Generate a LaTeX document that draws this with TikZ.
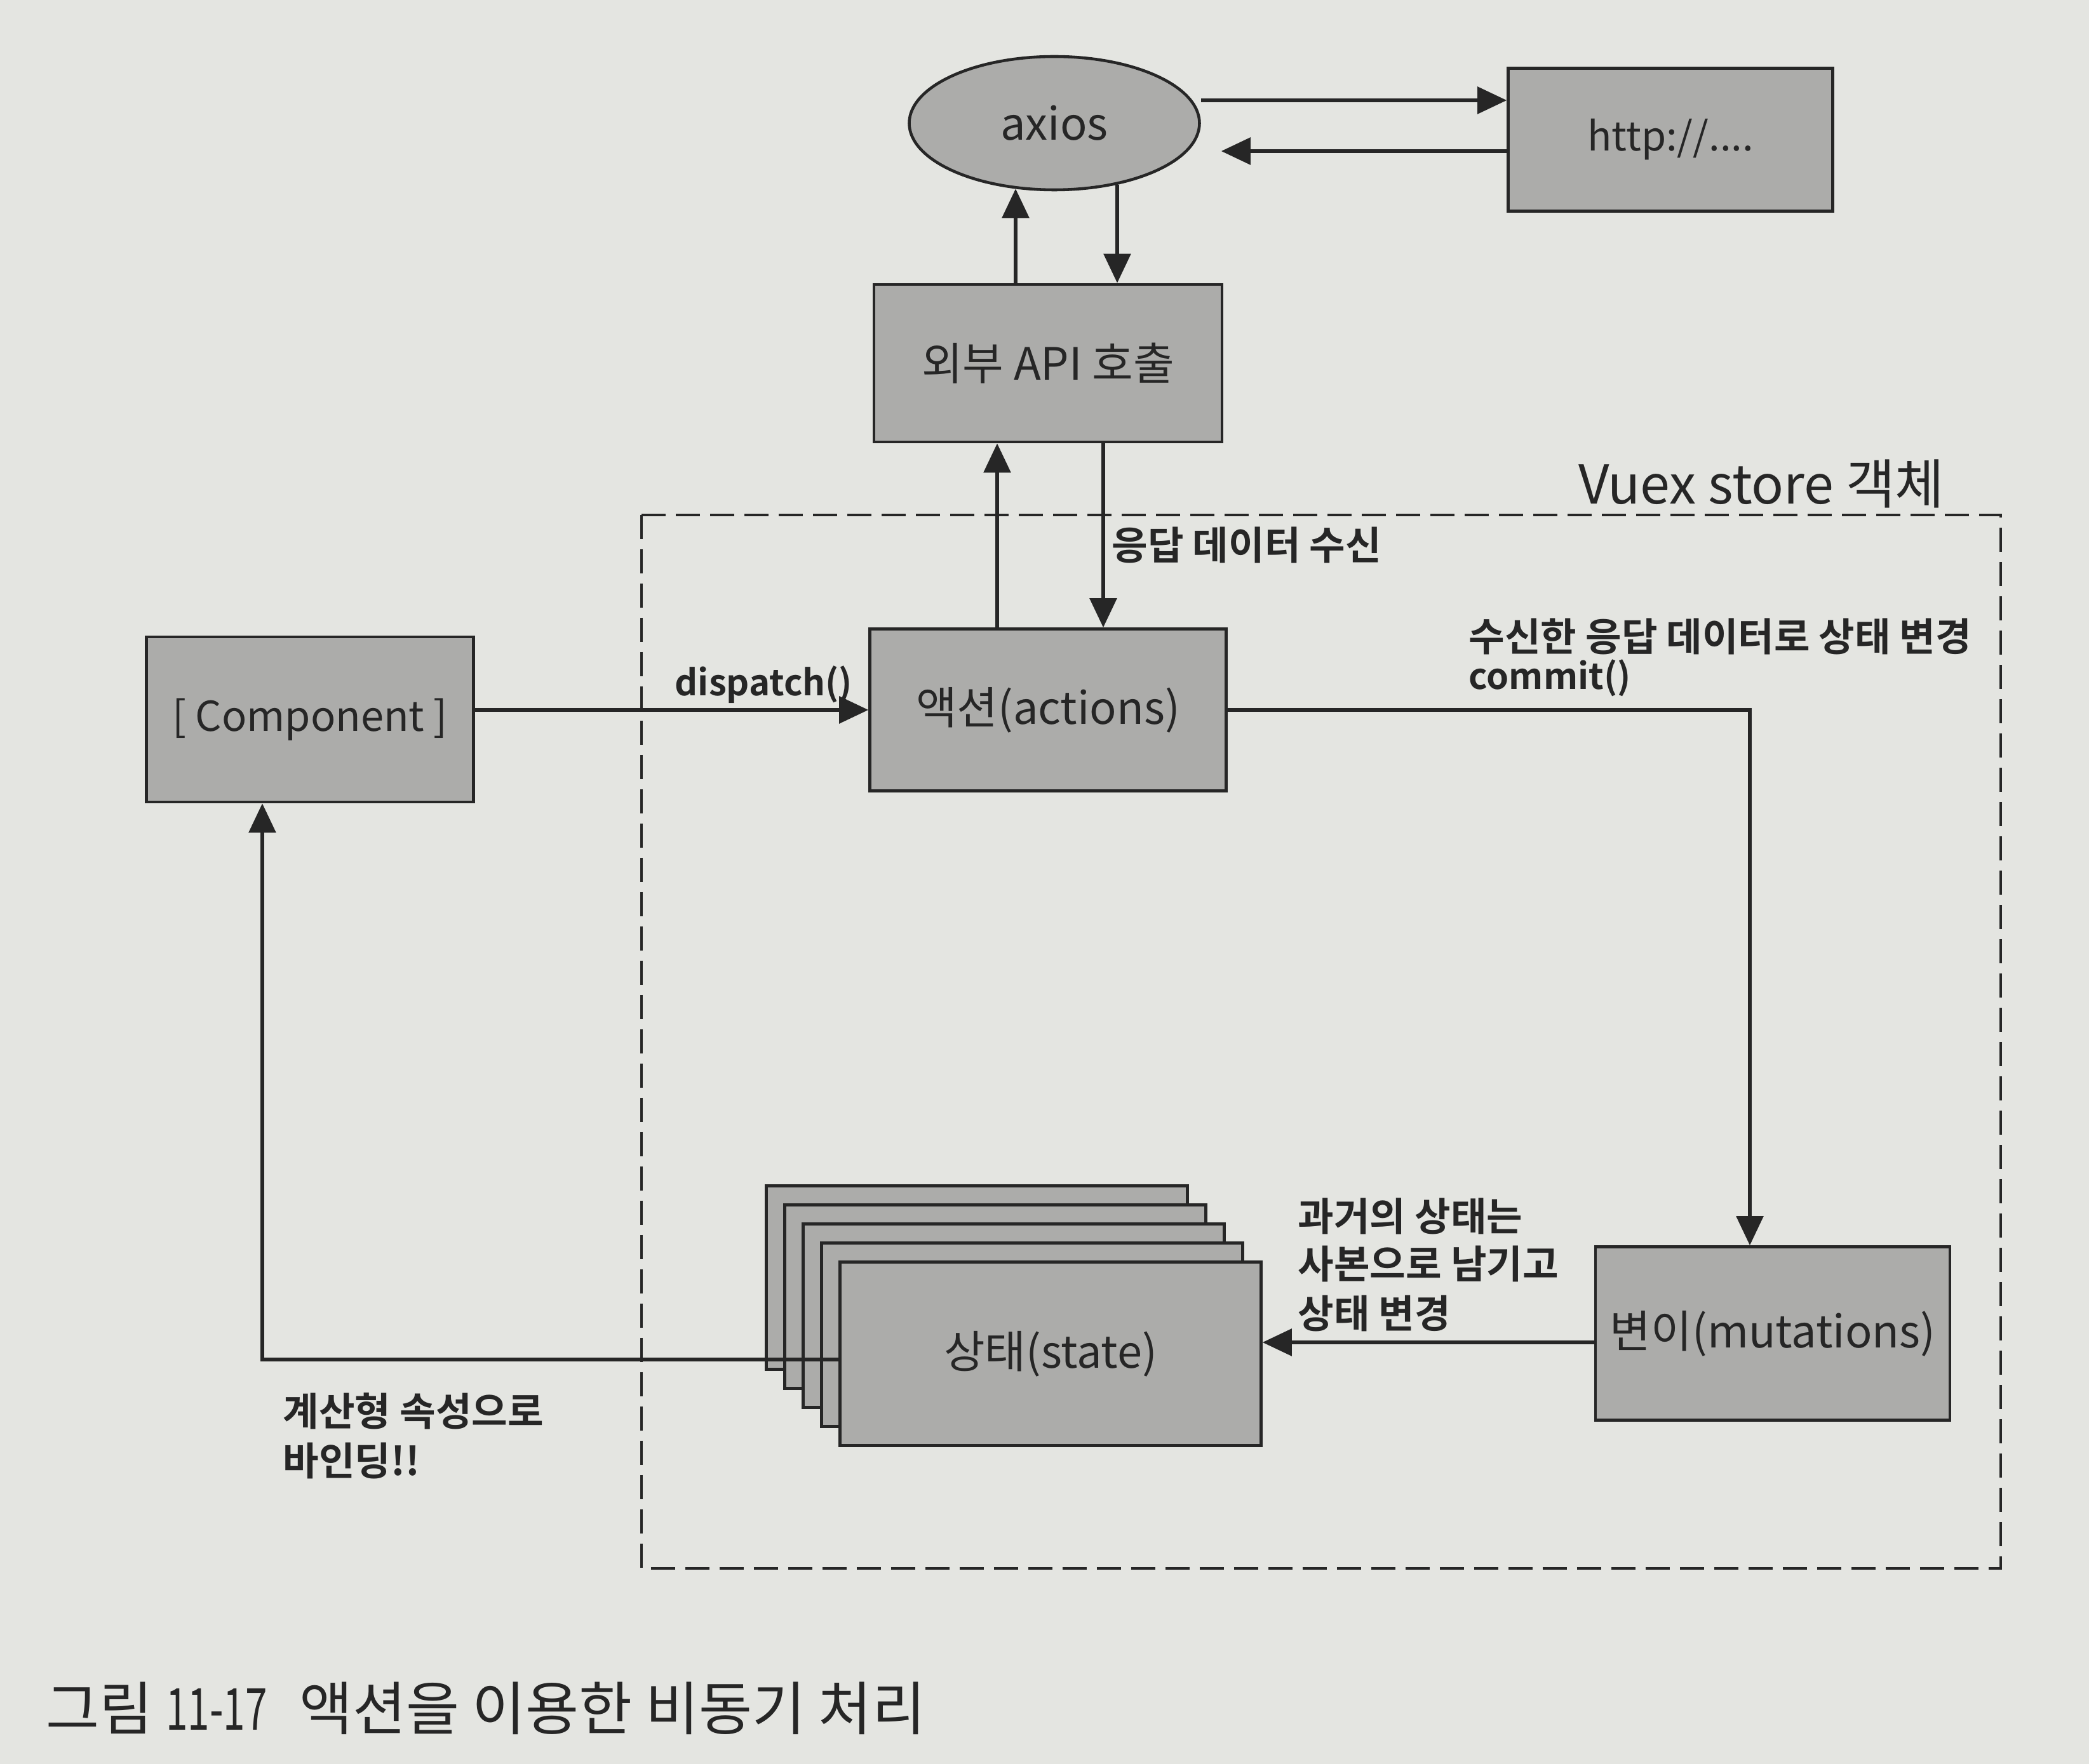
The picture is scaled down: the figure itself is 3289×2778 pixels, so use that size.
\documentclass[tikz,border=0pt]{standalone}
\usepackage{fontspec}
\usepackage{graphicx}
\setmainfont{Noto Sans CJK KR}[BoldFont={Noto Sans CJK KR Bold}]
\usetikzlibrary{arrows.meta,calc,shapes.geometric}
\definecolor{paper}{RGB}{228,229,225}
\definecolor{boxfill}{RGB}{172,172,170}
\definecolor{ink}{RGB}{38,38,38}
\begin{document}
\begin{tikzpicture}[x=0.1mm,y=-0.1mm,
  box/.style={draw=ink, line width=1.3pt, fill=boxfill, text=ink, font=\fontsize{20}{24}\selectfont, inner sep=0pt},
  lbl/.style={text=ink, font=\bfseries\fontsize{17.5}{21}\selectfont, inner sep=0pt, anchor=west},
  lbllat/.style={lbl, font=\bfseries\fontsize{16}{19}\selectfont},
  arr/.style={draw=ink, line width=1.6pt, -{Triangle[length=4.6mm,width=4.2mm]}},
  store/.style={draw=ink, line width=1.2pt, dash pattern=on 3.8mm off 1.6mm}]

\fill[paper] (0,0) rectangle (3289,2778);
\useasboundingbox (0,0) rectangle (3289,2778);

% Vuex store frame
\draw[store] (1010,811) rectangle (3150,2470);
\node[text=ink, font=\fontsize{24}{28}\selectfont, anchor=east, inner sep=0pt] (vuexlbl) at (3062,762) {Vuex store 객체};

% nodes
\node[box, ellipse, minimum width=45.7mm, minimum height=21mm] (axios) at (1660,194) {axios};
\node[box, minimum width=51.1mm, minimum height=22.5mm, font=\fontsize{18}{22}\selectfont] (http) at (2630,220) {http://....};
\node[box, minimum width=54.8mm, minimum height=24.8mm] (api) at (1650,572) {외부 API 호출};
\node[box, minimum width=56.1mm, minimum height=25.5mm] (act) at (1650,1118) {액션(actions)};
\node[box, minimum width=51.5mm, minimum height=26mm, font=\fontsize{18.5}{22}\selectfont] (comp) at (488,1133) {[ Component ]};
\node[box, minimum width=55.8mm, minimum height=27.3mm] (mut) at (2791,2100) {변이(mutations)};

\node[box, minimum width=66.3mm, minimum height=28.9mm] (st1) at (1538,2012) {};
\node[box, minimum width=66.3mm, minimum height=28.9mm] (st2) at (1567,2042) {};
\node[box, minimum width=66.3mm, minimum height=28.9mm] (st3) at (1596,2072) {};
\node[box, minimum width=66.3mm, minimum height=28.9mm] (st4) at (1625,2102) {};
\node[box, minimum width=66.3mm, minimum height=28.9mm] (state) at (1654,2132) {상태(state)};

% connectors: axios <-> http
\path ([shift={(0,-36)}]axios.east) coordinate (a1);
\draw[arr] (a1) -- (a1 -| http.west);
\path ([shift={(0,18)}]http.west) coordinate (h1);
\path ([shift={(32,44)}]axios.east) coordinate (a2);
\draw[arr] (h1) -- (a2);

% api <-> axios
\draw[arr] ([shift={(-51,0)}]api.north) -- ([shift={(-61,-4)}]axios.south);
\draw[arr] ([shift={(99,-10)}]axios.south) -- ([shift={(109,0)}]api.north);

% act <-> api
\draw[arr] ([shift={(-80,0)}]act.north) -- ([shift={(-80,0)}]api.south);
\draw[arr] ([shift={(87,0)}]api.south) -- ([shift={(87,0)}]act.north);
\node[lbl] (recv) at (1750,858) {응답 데이터 수신};

% dispatch
\draw[arr] (comp.east |- act.west) -- (act.west);
\node[lbllat] (disp) at (1062,1078) {dispatch()};

% commit
\coordinate (cc) at (2755,1118);
\draw[arr] (act.east) -- (cc) -- (cc |- mut.north);
\node[lbl] (commit1) at (2312,1002) {수신한 응답 데이터로 상태 변경};
\node[lbllat] (commit2) at (2312,1068) {commit()};

% mutations -> state
\path ([shift={(0,14)}]mut.west) coordinate (m1);
\draw[arr] (m1) -- (m1 -| state.east);
\node[lbl] (past1) at (2043,1915) {과거의 상태는};
\node[lbl] (past2) at (2043,1990) {사본으로 남기고};
\node[lbl] (past3) at (2043,2068) {상태 변경};

% state -> component
\coordinate (bind) at (413,2141);
\draw[arr] (state.west |- bind) -- (bind) -- (bind |- comp.south);
\node[lbl] (bind1) at (445,2222) {계산형 속성으로};
\node[lbl] (bind2) at (445,2300) {바인딩!!};

% caption
\node[text=ink, font=\fontsize{26}{30}\selectfont, anchor=west, inner sep=0pt] (caption) at (72,2690) {그림 \scalebox{0.68}[1]{11-17}\hspace{0.55em}액션을 이용한 비동기 처리};
\end{tikzpicture}
\end{document}
